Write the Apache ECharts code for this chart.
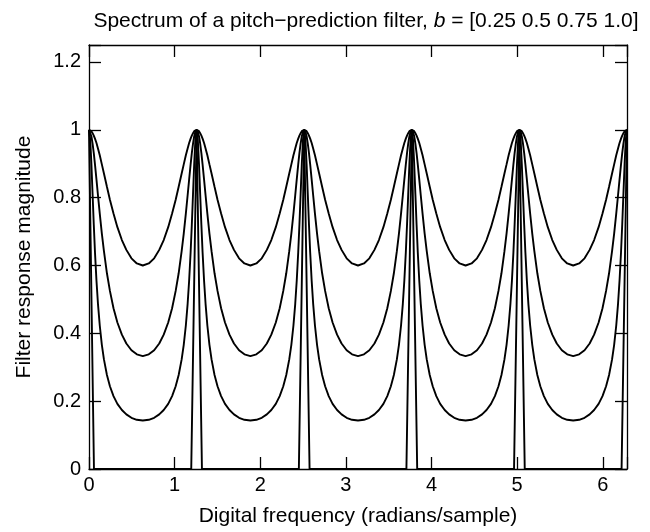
<!DOCTYPE html>
<html>
<head>
<meta charset="utf-8">
<script src="https://cdn.jsdelivr.net/npm/echarts@6/dist/echarts.min.js"></script>
<style>html,body{margin:0;padding:0;background:#fff}#c{width:650px;height:532px}</style>
</head>
<body>
<div id="c"></div>
<script>
// Digital frequency samples (radians/sample)
const freq = [
  0.0000, 0.0140, 0.0279, 0.0419, 0.0559, 0.0698, 0.0873, 0.1047, 0.1257, 0.1501,
  0.1745, 0.2094, 0.2443, 0.2862, 0.3316, 0.3840, 0.4363, 0.4957, 0.5585, 0.6283,
  0.6981, 0.7610, 0.8203, 0.8727, 0.9250, 0.9704, 1.0123, 1.0472, 1.0821, 1.1065,
  1.1310, 1.1519, 1.1694, 1.1868, 1.2008, 1.2148, 1.2287, 1.2427,
  1.2566, 1.2706, 1.2846, 1.2985, 1.3125, 1.3265, 1.3439, 1.3614, 1.3823, 1.4067,
  1.4312, 1.4661, 1.5010, 1.5429, 1.5883, 1.6406, 1.6930, 1.7523, 1.8152, 1.8850,
  1.9548, 2.0176, 2.0769, 2.1293, 2.1817, 2.2270, 2.2689, 2.3038, 2.3387, 2.3632,
  2.3876, 2.4086, 2.4260, 2.4435, 2.4574, 2.4714, 2.4854, 2.4993,
  2.5133, 2.5272, 2.5412, 2.5552, 2.5691, 2.5831, 2.6005, 2.6180, 2.6389, 2.6634,
  2.6878, 2.7227, 2.7576, 2.7995, 2.8449, 2.8972, 2.9496, 3.0089, 3.0718, 3.1416,
  3.2114, 3.2742, 3.3336, 3.3859, 3.4383, 3.4837, 3.5256, 3.5605, 3.5954, 3.6198,
  3.6442, 3.6652, 3.6826, 3.7001, 3.7141, 3.7280, 3.7420, 3.7559,
  3.7699, 3.7839, 3.7978, 3.8118, 3.8258, 3.8397, 3.8572, 3.8746, 3.8956, 3.9200,
  3.9444, 3.9794, 4.0143, 4.0561, 4.1015, 4.1539, 4.2062, 4.2656, 4.3284, 4.3982,
  4.4680, 4.5309, 4.5902, 4.6426, 4.6949, 4.7403, 4.7822, 4.8171, 4.8520, 4.8765,
  4.9009, 4.9218, 4.9393, 4.9567, 4.9707, 4.9847, 4.9986, 5.0126,
  5.0265, 5.0405, 5.0545, 5.0684, 5.0824, 5.0964, 5.1138, 5.1313, 5.1522, 5.1767,
  5.2011, 5.2360, 5.2709, 5.3128, 5.3582, 5.4105, 5.4629, 5.5222, 5.5851, 5.6549,
  5.7247, 5.7875, 5.8469, 5.8992, 5.9516, 5.9970, 6.0388, 6.0738, 6.1087, 6.1331,
  6.1575, 6.1785, 6.1959, 6.2134, 6.2273, 6.2413, 6.2553, 6.2692,
  6.2832
];
// Filter response magnitude, b = 0.25
const magB025 = [
  1.000, 0.999, 0.996, 0.990, 0.983, 0.974, 0.961, 0.945, 0.925, 0.898, 0.871, 0.832, 0.794, 0.753, 0.713, 0.675, 0.646, 0.621, 0.606, 0.600,
  0.606, 0.621, 0.646, 0.675, 0.713, 0.753, 0.794, 0.832, 0.871, 0.898, 0.925, 0.945, 0.961, 0.974, 0.983, 0.990, 0.996, 0.999,
  1.000, 0.999, 0.996, 0.990, 0.983, 0.974, 0.961, 0.945, 0.925, 0.898, 0.871, 0.832, 0.794, 0.753, 0.713, 0.675, 0.646, 0.621, 0.606, 0.600,
  0.606, 0.621, 0.646, 0.675, 0.713, 0.753, 0.794, 0.832, 0.871, 0.898, 0.925, 0.945, 0.961, 0.974, 0.983, 0.990, 0.996, 0.999,
  1.000, 0.999, 0.996, 0.990, 0.983, 0.974, 0.961, 0.945, 0.925, 0.898, 0.871, 0.832, 0.794, 0.753, 0.713, 0.675, 0.646, 0.621, 0.606, 0.600,
  0.606, 0.621, 0.646, 0.675, 0.713, 0.753, 0.794, 0.832, 0.871, 0.898, 0.925, 0.945, 0.961, 0.974, 0.983, 0.990, 0.996, 0.999,
  1.000, 0.999, 0.996, 0.990, 0.983, 0.974, 0.961, 0.945, 0.925, 0.898, 0.871, 0.832, 0.794, 0.753, 0.713, 0.675, 0.646, 0.621, 0.606, 0.600,
  0.606, 0.621, 0.646, 0.675, 0.713, 0.753, 0.794, 0.832, 0.871, 0.898, 0.925, 0.945, 0.961, 0.974, 0.983, 0.990, 0.996, 0.999,
  1.000, 0.999, 0.996, 0.990, 0.983, 0.974, 0.961, 0.945, 0.925, 0.898, 0.871, 0.832, 0.794, 0.753, 0.713, 0.675, 0.646, 0.621, 0.606, 0.600,
  0.606, 0.621, 0.646, 0.675, 0.713, 0.753, 0.794, 0.832, 0.871, 0.898, 0.925, 0.945, 0.961, 0.974, 0.983, 0.990, 0.996, 0.999,
  1.000
];
// Filter response magnitude, b = 0.5
const magB050 = [
  1.000, 0.995, 0.981, 0.959, 0.931, 0.898, 0.853, 0.807, 0.753, 0.694, 0.642, 0.577, 0.525, 0.474, 0.432, 0.396, 0.370, 0.350, 0.338, 0.333,
  0.338, 0.350, 0.370, 0.396, 0.432, 0.474, 0.525, 0.577, 0.642, 0.694, 0.753, 0.807, 0.853, 0.898, 0.931, 0.959, 0.981, 0.995,
  1.000, 0.995, 0.981, 0.959, 0.931, 0.898, 0.853, 0.807, 0.753, 0.694, 0.642, 0.577, 0.525, 0.474, 0.432, 0.396, 0.370, 0.350, 0.338, 0.333,
  0.338, 0.350, 0.370, 0.396, 0.432, 0.474, 0.525, 0.577, 0.642, 0.694, 0.753, 0.807, 0.853, 0.898, 0.931, 0.959, 0.981, 0.995,
  1.000, 0.995, 0.981, 0.959, 0.931, 0.898, 0.853, 0.807, 0.753, 0.694, 0.642, 0.577, 0.525, 0.474, 0.432, 0.396, 0.370, 0.350, 0.338, 0.333,
  0.338, 0.350, 0.370, 0.396, 0.432, 0.474, 0.525, 0.577, 0.642, 0.694, 0.753, 0.807, 0.853, 0.898, 0.931, 0.959, 0.981, 0.995,
  1.000, 0.995, 0.981, 0.959, 0.931, 0.898, 0.853, 0.807, 0.753, 0.694, 0.642, 0.577, 0.525, 0.474, 0.432, 0.396, 0.370, 0.350, 0.338, 0.333,
  0.338, 0.350, 0.370, 0.396, 0.432, 0.474, 0.525, 0.577, 0.642, 0.694, 0.753, 0.807, 0.853, 0.898, 0.931, 0.959, 0.981, 0.995,
  1.000, 0.995, 0.981, 0.959, 0.931, 0.898, 0.853, 0.807, 0.753, 0.694, 0.642, 0.577, 0.525, 0.474, 0.432, 0.396, 0.370, 0.350, 0.338, 0.333,
  0.338, 0.350, 0.370, 0.396, 0.432, 0.474, 0.525, 0.577, 0.642, 0.694, 0.753, 0.807, 0.853, 0.898, 0.931, 0.959, 0.981, 0.995,
  1.000
];
// Filter response magnitude, b = 0.75
const magB075 = [
  1.000, 0.972, 0.900, 0.810, 0.720, 0.639, 0.555, 0.487, 0.423, 0.366, 0.323, 0.277, 0.244, 0.215, 0.192, 0.174, 0.161, 0.151, 0.145, 0.143,
  0.145, 0.151, 0.161, 0.174, 0.192, 0.215, 0.244, 0.277, 0.323, 0.366, 0.423, 0.487, 0.555, 0.639, 0.720, 0.810, 0.900, 0.972,
  1.000, 0.972, 0.900, 0.810, 0.720, 0.639, 0.555, 0.487, 0.423, 0.366, 0.323, 0.277, 0.244, 0.215, 0.192, 0.174, 0.161, 0.151, 0.145, 0.143,
  0.145, 0.151, 0.161, 0.174, 0.192, 0.215, 0.244, 0.277, 0.323, 0.366, 0.423, 0.487, 0.555, 0.639, 0.720, 0.810, 0.900, 0.972,
  1.000, 0.972, 0.900, 0.810, 0.720, 0.639, 0.555, 0.487, 0.423, 0.366, 0.323, 0.277, 0.244, 0.215, 0.192, 0.174, 0.161, 0.151, 0.145, 0.143,
  0.145, 0.151, 0.161, 0.174, 0.192, 0.215, 0.244, 0.277, 0.323, 0.366, 0.423, 0.487, 0.555, 0.639, 0.720, 0.810, 0.900, 0.972,
  1.000, 0.972, 0.900, 0.810, 0.720, 0.639, 0.555, 0.487, 0.423, 0.366, 0.323, 0.277, 0.244, 0.215, 0.192, 0.174, 0.161, 0.151, 0.145, 0.143,
  0.145, 0.151, 0.161, 0.174, 0.192, 0.215, 0.244, 0.277, 0.323, 0.366, 0.423, 0.487, 0.555, 0.639, 0.720, 0.810, 0.900, 0.972,
  1.000, 0.972, 0.900, 0.810, 0.720, 0.639, 0.555, 0.487, 0.423, 0.366, 0.323, 0.277, 0.244, 0.215, 0.192, 0.174, 0.161, 0.151, 0.145, 0.143,
  0.145, 0.151, 0.161, 0.174, 0.192, 0.215, 0.244, 0.277, 0.323, 0.366, 0.423, 0.487, 0.555, 0.639, 0.720, 0.810, 0.900, 0.972,
  1.000
];
// b = 1.0 (zero except at the peaks)
const spikeFreq = [0.000, 0.058, 1.194, 1.2566, 1.319, 2.451, 2.5133, 2.576, 3.707, 3.7699, 3.833, 4.964, 5.0265, 5.089, 6.220, 6.2832];
const spikeMag  = [1, 0, 0, 1, 0, 0, 1, 0, 0, 1, 0, 0, 1, 0, 0, 1];

const xTicks = [0, 1, 2, 3, 4, 5, 6];
const yTicks = [0, 0.2, 0.4, 0.6, 0.8, 1, 1.2];

const zip = (xs, ys) => xs.map((x, i) => [x, ys[i]]);
const FONT = '"Liberation Sans", Arial, Helvetica, sans-serif';
const lineStyle = { color: '#000', width: 1.9 };
const mk = (d) => ({ type: 'line', data: d, showSymbol: false, symbol: 'none', lineStyle, animation: false, z: 3 });

const chart = echarts.init(document.getElementById('c'), null, { renderer: 'canvas' });
const axisCommon = {
  axisLine: { show: true, onZero: false, lineStyle: { color: '#000', width: 1.3 } },
  axisTick: { show: true, inside: true, length: 12, lineStyle: { color: '#000', width: 1.3 } },
  splitLine: { show: false }
};
chart.setOption({
  animation: false,
  backgroundColor: '#fff',
  title: {
    text: '{n|Spectrum of a pitch\u2212prediction filter, }{i|b}{n| = [0.25 0.5 0.75 1.0]}',
    left: 361, top: 6, textAlign: 'center',
    textStyle: {
      fontWeight: 'normal',
      rich: {
        n: { fontFamily: FONT, fontSize: 21, color: '#000', fontWeight: 'normal' },
        i: { fontFamily: FONT, fontSize: 21, color: '#000', fontWeight: 'normal', fontStyle: 'italic' }
      }
    }
  },
  grid: { left: 89, right: 23, top: 45, bottom: 63, containLabel: false },
  xAxis: [
    Object.assign({
      type: 'value', min: 0, max: 6.2832, interval: 1, position: 'bottom',
      name: 'Digital frequency (radians/sample)', nameLocation: 'middle', nameGap: 37,
      nameTextStyle: { fontFamily: FONT, fontSize: 21, color: '#000' },
      axisLabel: { fontFamily: FONT, fontSize: 20, color: '#000', margin: 6,
        formatter: v => xTicks.includes(Math.round(v * 1000) / 1000) ? String(v) : '' }
    }, axisCommon),
    Object.assign({
      type: 'value', min: 0, max: 6.2832, interval: 1, position: 'top',
      axisLabel: { show: false }
    }, axisCommon)
  ],
  yAxis: [
    Object.assign({
      type: 'value', min: 0, max: 1.25, interval: 0.2, position: 'left',
      name: 'Filter response magnitude', nameLocation: 'middle', nameGap: 54, nameRotate: 90,
      nameTextStyle: { fontFamily: FONT, fontSize: 21, color: '#000' },
      axisLabel: { fontFamily: FONT, fontSize: 20, color: '#000', margin: 8,
        formatter: v => { const r = Math.round(v * 1000) / 1000; return yTicks.includes(r) ? String(r) : ''; } }
    }, axisCommon),
    Object.assign({
      type: 'value', min: 0, max: 1.25, interval: 0.2, position: 'right',
      axisLabel: { show: false }
    }, axisCommon)
  ],
  series: [
    mk(zip(freq, magB025)),
    mk(zip(freq, magB050)),
    mk(zip(freq, magB075)),
    mk(zip(spikeFreq, spikeMag))
  ]
});
</script>
</body>
</html>
